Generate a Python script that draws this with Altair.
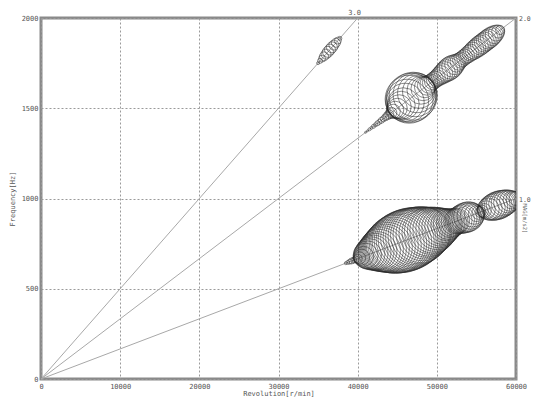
import altair as alt
import pandas as pd

# ---- data ----
orders = [1.0, 2.0, 3.0]
order_end_rpm = [60000, 60000, 40000]

# order 1 : rpm 38500 .. 60000 step 250, amplitude (arbitrary units)
rpm_start1, rpm_stop1 = 38500, 60000
amp1 = [1.5, 2, 2.5, 3, 3, 3.5, 4.5, 6, 8, 10,
        12.5, 14, 15.5, 16.5, 17.5, 18.5, 19.5, 21, 22, 23,
        24, 25, 26, 27, 28, 29, 29.5, 30, 30.5, 31,
        31, 31, 31, 30.5, 30, 29.5, 29, 28.5, 28, 27,
        26, 25, 24.5, 23.5, 23, 22, 21, 20, 19, 18,
        17, 16, 15.5, 14.5, 14, 13.5, 13, 13.5, 14, 14.5,
        15, 15, 15, 13.5, 12, 10, 8, 6.5, 5.5, 6,
        7, 9, 11, 12, 13, 13.5, 14, 14, 14, 13.5,
        13, 12.5, 11.5, 10.5, 9, 8, 7]

# order 2 : rpm 41000 .. 58000 step 250
rpm_start2, rpm_stop2 = 41000, 58000
amp2 = [1, 1, 1.5, 1.5, 2, 2, 2.5, 2.5, 3, 3,
        3.5, 4, 4.5, 5.5, 7, 8.5, 10, 12, 14, 16,
        19, 21.5, 24, 24.5, 24, 22, 19.5, 16.5, 14, 12,
        10.5, 9.5, 9, 8.5, 8.5, 8.5, 8.5, 9, 9.5, 10,
        10.5, 11, 11.5, 11.5, 11, 10, 9, 8.5, 8, 8,
        8, 8, 8.5, 8.5, 9, 9.5, 9.5, 10, 10, 10,
        10, 10, 10, 10, 9.5, 9, 8, 6.5, 4.5]

# order 3 : rpm 35000 .. 37750 step 250
rpm_start3, rpm_stop3 = 35000, 37750
amp3 = [1.5, 2.5, 3.5, 4.5, 5, 5.5, 5.5, 5.5, 5, 4.5, 3.5, 2]

x_ticks = list(range(0, 60001, 5000))
y_ticks = [0, 500, 1000, 1500, 2000]
order_labels = ["1.0", "2.0", "3.0"]
side_label = "MAG[m/s2]"

# ---- tables ----
rows = []
for order, start, stop, amps in [(1.0, rpm_start1, rpm_stop1, amp1),
                                 (2.0, rpm_start2, rpm_stop2, amp2),
                                 (3.0, rpm_start3, rpm_stop3, amp3)]:
    rpms = list(range(start, stop + 1, 250))
    assert len(rpms) == len(amps), (order, len(rpms), len(amps))
    for r, a in zip(rpms, amps):
        rows.append({"order": order, "rpm": r, "freq": order * r / 60.0, "amp": a})
circ = pd.DataFrame(rows)

line_rows = []
for o, e in zip(orders, order_end_rpm):
    line_rows.append({"order": o, "rpm": 0, "freq": 0})
    line_rows.append({"order": o, "rpm": e, "freq": o * e / 60.0})
lines = pd.DataFrame(line_rows)

lab = pd.DataFrame({"text": order_labels,
                    "rpm": order_end_rpm,
                    "freq": [o * e / 60.0 for o, e in zip(orders, order_end_rpm)]})

FONT = "DejaVu Sans Mono"
xenc = alt.X("rpm:Q", scale=alt.Scale(domain=[0, 60000], nice=False, zero=False),
             axis=alt.Axis(values=x_ticks, title="Revolution[r/min]", labelPadding=3,
                           titlePadding=0, format="d", labelFlush=False))
yenc = alt.Y("freq:Q", scale=alt.Scale(domain=[0, 2000], nice=False),
             axis=alt.Axis(values=y_ticks, title="Frequency[Hz]", labelPadding=3,
                           titlePadding=6, format="d"))

base_lines = alt.Chart(lines).mark_line(color="#a8a8a8", strokeWidth=1).encode(
    x=xenc, y=yenc, detail="order:N")

points = alt.Chart(circ).mark_point(shape="circle", filled=False, color="#2a2a2a",
                                    strokeWidth=0.6, opacity=0.9, clip=True).encode(
    x="rpm:Q", y="freq:Q",
    size=alt.Size("amp:Q", legend=None,
                  scale=alt.Scale(type="pow", exponent=2, domain=[0, 32], range=[0, 4096])))

lab3 = alt.Chart(lab[lab.text == "3.0"]).mark_text(
    font=FONT, fontSize=7, color="#555", align="center", baseline="middle",
    dx=-3, dy=-5).encode(x="rpm:Q", y="freq:Q", text="text:N")
labR = alt.Chart(lab[lab.text != "3.0"]).mark_text(
    font=FONT, fontSize=6.5, color="#555", align="left", baseline="middle",
    dx=3, dy=1).encode(x="rpm:Q", y="freq:Q", text="text:N")
side = alt.Chart(pd.DataFrame({"text": [side_label], "rpm": [60000], "freq": [1000]})).mark_text(
    font=FONT, fontSize=5.5, color="#666", align="center", baseline="middle",
    angle=90, dx=20, dy=-9).encode(x="rpm:Q", y="freq:Q", text="text:N")

chart = alt.layer(base_lines, points, lab3, labR, side).properties(
    width=475, height=361,
    autosize=alt.AutoSizeParams(type="none"),
    padding={"left": 33, "top": 10, "right": 15, "bottom": 18},
    background="white",
).configure_view(
    stroke="#8a8a8a", strokeWidth=3
).configure_axis(
    domain=False, ticks=False, grid=True, gridDash=[2, 2], gridColor="#9a9a9a",
    gridWidth=1, labelFont=FONT, labelFontSize=7, labelColor="#555",
    titleFont=FONT, titleFontSize=7, titleColor="#555", titleFontWeight="normal"
)

chart.save("out.html", embed_options={"renderer": "svg", "actions": False})
